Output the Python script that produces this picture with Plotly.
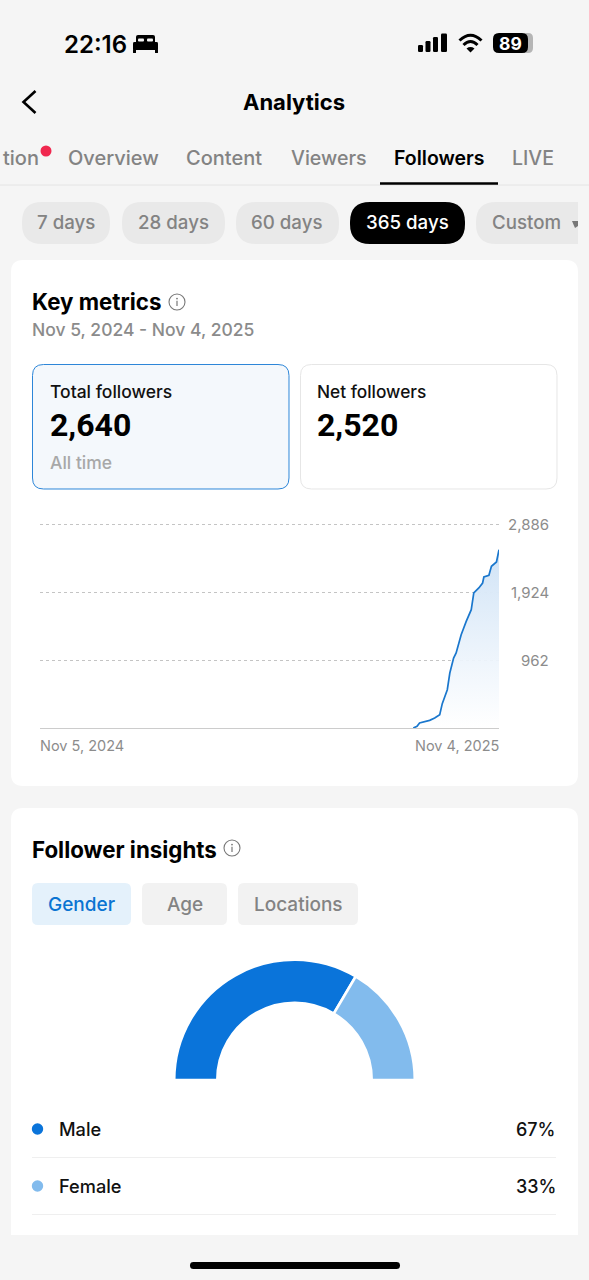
import plotly.graph_objects as go

W, H = 589, 1280
FONT = "Inter"

# ---------- data ----------
follower_dates = ["2025-08-28","2025-08-31","2025-09-02","2025-09-06","2025-09-10","2025-09-14",
                  "2025-09-18","2025-09-20","2025-09-24","2025-09-26","2025-09-29","2025-10-01",
                  "2025-10-03","2025-10-05","2025-10-09","2025-10-13","2025-10-15","2025-10-19",
                  "2025-10-22","2025-10-23","2025-10-27","2025-10-29","2025-11-02","2025-11-04"]
follower_values = [0,24,71,90,108,141,189,344,542,778,990,1061,1203,1320,1509,1674,1910,1981,2051,
                   2136,2160,2287,2349,2523]
range_start, range_end = "2024-11-05", "2025-11-04"
y_ticks = [962, 1924, 2886]
y_tick_labels = ["962", "1,924", "2,886"]
y_axis_top = 3000
x_tick_labels = ["Nov 5, 2024", "Nov 4, 2025"]
gender_labels = ["Male", "Female"]
gender_values = [67, 33]
gender_colors = ["#0a74da", "#82bbed"]

# ---------- px helpers ----------
def px(x): return x / W
def py(y): return 1 - y / H

shapes, notes = [], []

def P(x, y): return f"{px(x):.5f},{py(y):.5f}"

def rrect(x0, y0, x1, y1, r, fill, line=None, lw=1, square_right=False, square_bottom=False):
    rbl = 0 if square_bottom else r
    rtr = 0 if square_right else r
    rbr = 0 if (square_right or square_bottom) else r
    d = (f"M{P(x0+r,y0)} L{P(x1-rtr,y0)} Q{P(x1,y0)} {P(x1,y0+rtr)} "
         f"L{P(x1,y1-rbr)} Q{P(x1,y1)} {P(x1-rbr,y1)} L{P(x0+rbl,y1)} "
         f"Q{P(x0,y1)} {P(x0,y1-rbl)} L{P(x0,y0+r)} Q{P(x0,y0)} {P(x0+r,y0)} Z")
    shapes.append(dict(type="path", xref="paper", yref="paper", path=d, fillcolor=fill,
                       line=dict(color=line or fill, width=lw if line else 0), layer="below"))

def hline(x0, x1, y, color, w=1):
    shapes.append(dict(type="line", xref="paper", yref="paper", x0=px(x0), x1=px(x1), y0=py(y), y1=py(y),
                       line=dict(color=color, width=w), layer="below"))

def stroke(d, color="#000", w=2.5):
    shapes.append(dict(type="path", xref="paper", yref="paper", path=d, line=dict(color=color, width=w), layer="below"))

def circle(cx, cy, r, fill="rgba(0,0,0,0)", line=None, lw=1):
    shapes.append(dict(type="circle", xref="paper", yref="paper", x0=px(cx-r), x1=px(cx+r),
                       y0=py(cy+r), y1=py(cy-r), fillcolor=fill,
                       line=dict(color=line or fill, width=lw if line else 0), layer="below"))

def text(t, x, y, size, color="#000", weight=500, anchor="left", family=FONT):
    notes.append(dict(text=t, xref="paper", yref="paper", x=px(x), y=py(y), xanchor=anchor, yanchor="middle",
                      showarrow=False, borderpad=0, font=dict(family=family, size=size, color=color, weight=weight)))

def info(cx, cy):
    circle(cx, cy, 8, line="#777", lw=1.1)
    circle(cx, cy-3.4, 0.9, fill="#777")
    stroke(f"M{P(cx,cy-1.2)} L{P(cx,cy+4)}", "#777", 1.2)

BG = "#f5f5f5"
GREY_TXT = "#838383"

# cards
rrect(11, 260, 578, 786, 12, "#ffffff")
rrect(11, 808, 578, 1235, 12, "#ffffff", square_bottom=True)

# status bar
text("22:16", 63, 44, 24, "#000", 600)
rrect(133, 42, 158, 50, 1.5, "#000")
rrect(136, 35, 155, 44, 2, "#000")
rrect(138, 38.5, 144, 41.5, 1, "#f5f5f5")
rrect(147, 38.5, 153, 41.5, 1, "#f5f5f5")
rrect(133, 49, 136, 53, 0.5, "#000")
rrect(155, 49, 158, 53, 0.5, "#000")
for x0, x1, y0 in [(418, 423, 45), (425.5, 430.5, 41), (433, 438, 37), (441, 447, 33.5)]:
    rrect(x0, y0, x1, 52, 1.2, "#000")
stroke(f"M{P(459.5,40.5)} Q{P(470.5,30)} {P(481.5,40.5)}", "#000", 3)
stroke(f"M{P(463.5,45)} Q{P(470.5,38)} {P(477.5,45)}", "#000", 3)
shapes.append(dict(type="path", xref="paper", yref="paper", layer="below", fillcolor="#000", line=dict(width=0),
                   path=f"M{P(466.5,48.5)} Q{P(470.5,45.5)} {P(474.5,48.5)} L{P(470.5,52.5)} Z"))
rrect(520, 33, 533, 53, 5, "#b5b5b5")
rrect(493, 33, 528, 53, 6, "#000")
text("89", 510.5, 43.5, 17.5, "#fff", 700, "center")

# header
stroke(f"M{P(35.5,91)} L{P(23.5,102)} L{P(35.5,113)}", "#000", 2.6)
text("Analytics", 293.5, 102, 22, "#000", 700, "center")

# tabs
TAB_Y = 158.5
text("tion", 2, TAB_Y, 20, GREY_TXT, 500)
circle(46, 151, 5.5, fill="#f0284f")
text("Overview", 67, TAB_Y, 20, GREY_TXT, 500)
text("Content", 185, TAB_Y, 20, GREY_TXT, 500)
text("Viewers", 290, TAB_Y, 19.6, GREY_TXT, 500)
text("Followers", 393, TAB_Y, 19.5, "#000", 600)
text("LIVE", 511, TAB_Y, 19.5, GREY_TXT, 500)
hline(0, 589, 185, "#e4e4e4", 1)
hline(380, 498, 183.5, "#000", 2.5)

# pills
for x0, x1, label in [(22, 110, "7 days"), (122, 225, "28 days"), (236, 339, "60 days")]:
    rrect(x0, 202, x1, 244, 20, "#e9e9e9")
    text(label, (x0+x1)/2 - 0.5, 223, 18.7, GREY_TXT, 500, "center")
rrect(350, 202, 465, 244, 20, "#000")
text("365 days", 407, 223, 18.7, "#fff", 500, "center")
rrect(476, 202, 578, 244, 20, "#e9e9e9", square_right=True)
text("Custom", 491, 223, 18.7, GREY_TXT, 500)
shapes.append(dict(type="path", xref="paper", yref="paper", layer="below", fillcolor="#777", line=dict(width=0),
                   path=f"M{P(572,221)} L{P(578,221)} L{P(578,226)} L{P(575,228)} Z"))

# key metrics
text("Key metrics", 31, 301.5, 22.3, "#000", 700)
info(177, 302)
text("Nov 5, 2024 - Nov 4, 2025", 31, 329.5, 17.5, "#8b8b8b", 500)
rrect(32.5, 364.5, 289, 489, 11, "#f4f8fc", "#2d86d8", 1)
rrect(300.5, 364.5, 557, 489, 11, "#ffffff", "#e6e6e6", 1)
text("Total followers", 48.5, 391.5, 17.5, "#111", 500)
text("2,640", 49, 424.5, 32, "#000", 700, family="Roboto")
text("All time", 48.5, 462.5, 17.5, "#a8a8a8", 500)
text("Net followers", 316, 391.5, 17.3, "#111", 500)
text("2,520", 316, 424.5, 32, "#000", 700, family="Roboto")

# follower insights
text("Follower insights", 31, 849.5, 22.3, "#000", 700)
info(232, 848)
for x0, x1, label, fill, col in [(32, 131, "Gender", "#e4f1fb", "#0a74d2"),
                                 (142, 227, "Age", "#f2f2f2", GREY_TXT),
                                 (238, 358, "Locations", "#f2f2f2", GREY_TXT)]:
    rrect(x0, 883, x1, 925, 6, fill)
    text(label, (x0+x1)/2, 904, 19, col, 500, "center")

# legend rows
for y, label, value, color in zip([1129, 1186], gender_labels, gender_values, gender_colors):
    circle(37.5, y, 5.7, fill=color)
    text(label, 58, y-0.5, 18.2, "#111", 500)
    text(f"{value}%", 557, y, 18, "#111", 500, "right")
    hline(32, 556, y+28.5, "#efefef", 1)

# home indicator
rrect(190, 1262, 400, 1269, 3.5, "#000")

# chart tick labels: placed from the value arrays
for v, lab in zip(y_ticks, y_tick_labels):
    notes.append(dict(text=lab, xref="paper", yref="y", x=px(550), y=v, xanchor="right", yanchor="middle",
                      showarrow=False, borderpad=0, font=dict(family=FONT, size=15, color="#8c8c8c")))
for d, lab, anc, shift in zip([range_start, range_end], x_tick_labels, ["left", "right"], [-1, 1]):
    notes.append(dict(text=lab, xref="x", yref="paper", x=d, y=py(745.5), xanchor=anc, yanchor="middle", xshift=shift,
                      showarrow=False, borderpad=0, font=dict(family=FONT, size=14.5, color="#8c8c8c")))

fig = go.Figure()
fig.add_trace(go.Scatter(
    x=follower_dates, y=follower_values, mode="lines", hoverinfo="skip",
    line=dict(color="#1a77cd", width=1.7), fill="tozeroy",
    fillgradient=dict(type="vertical", colorscale=[[0, "rgba(255,255,255,0.9)"], [1, "#d0e3f6"]]),
    showlegend=False))

# half-doughnut: the unseen half fills the lower part of the circle
fig.add_trace(go.Pie(
    labels=gender_labels + [""], values=gender_values + [sum(gender_values)],
    sort=False, direction="clockwise", rotation=270, hole=77.25/120.25,
    marker=dict(colors=gender_colors + ["rgba(0,0,0,0)"], line=dict(color="#fff", width=[2.5, 2.5, 0])),
    textinfo="none", hoverinfo="skip", showlegend=False,
    domain=dict(x=[px(174.25), px(414.75)], y=[py(1200.25), py(959.75)])))

fig.update_layout(
    width=W, height=H, margin=dict(l=0, r=0, t=0, b=0), autosize=False,
    paper_bgcolor=BG, plot_bgcolor="rgba(0,0,0,0)", shapes=shapes, annotations=notes,
    xaxis=dict(domain=[px(40), px(499)], range=[range_start, range_end], type="date",
               showgrid=False, showticklabels=False, ticks="", showline=True, linecolor="#cccccc", linewidth=1,
               zeroline=False, fixedrange=True),
    yaxis=dict(domain=[py(728), py(728 - 204 * y_axis_top / 2886)], range=[0, y_axis_top], tickvals=y_ticks,
               showticklabels=False, ticks="",
               showgrid=True, gridcolor="#c4c4c4", griddash="dot", gridwidth=1, zeroline=False, showline=False,
               fixedrange=True),
)
fig.write_html("out.html", config=dict(displayModeBar=False),
               post_script="document.body.style.margin='0';")
